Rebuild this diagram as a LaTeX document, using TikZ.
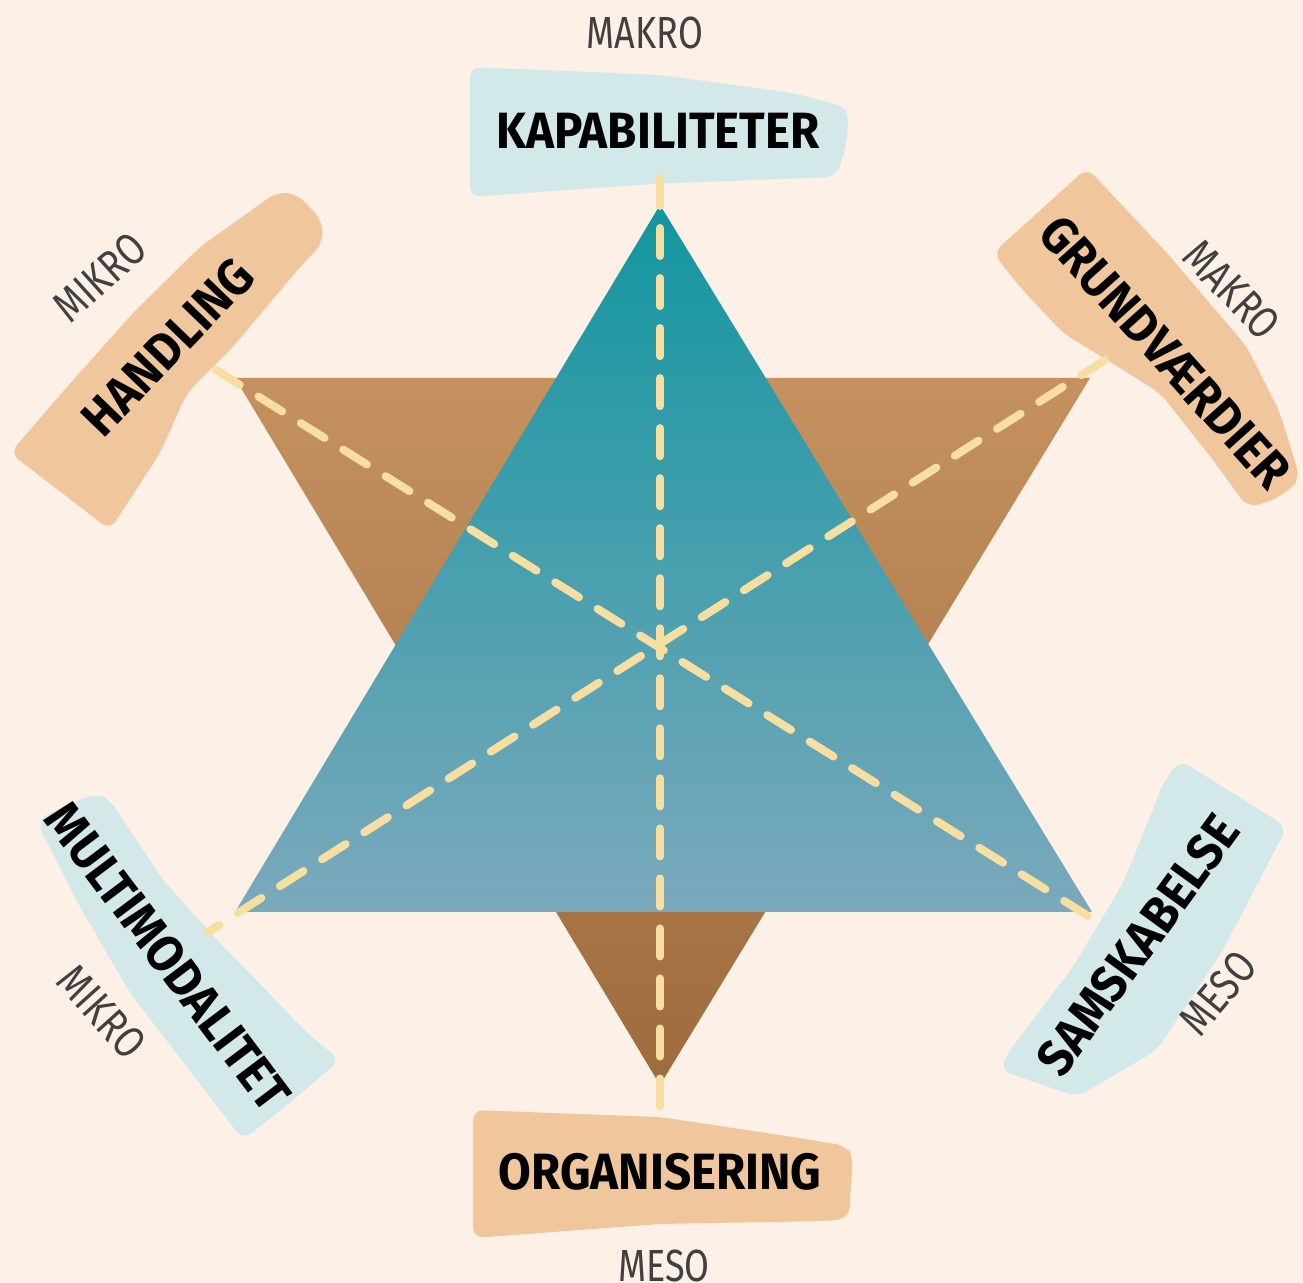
\documentclass[tikz,border=0pt]{standalone}
\usepackage{fontspec}
\setmainfont{Fira Sans}
\usetikzlibrary{positioning}

\definecolor{bg}{HTML}{FDF1E7}
\definecolor{peach}{HTML}{F0C69D}
\definecolor{paleblue}{HTML}{D3E8E8}
\definecolor{browntop}{HTML}{C4915F}
\definecolor{brownbot}{HTML}{9E6B3F}
\definecolor{tealtop}{HTML}{12969F}
\definecolor{tealbot}{HTML}{7BA9BC}
\definecolor{dashcol}{HTML}{F8DFA1}

\begin{document}
\begin{tikzpicture}[
  x=0.01cm, y=-0.01cm,
  lbl/.style={font=\bfseries\fontsize{14.5}{14.5}\selectfont, text=black, inner sep=0pt, xscale=0.93},
  lvl/.style={font=\fontsize{12.8}{12.8}\selectfont, text=black!75, inner sep=0pt, xscale=0.8},
  axis/.style={draw=dashcol, line width=0.08cm, line cap=round, dash pattern=on 0.28cm off 0.22cm},
  paper/.style={rounded corners=3pt}
]
\useasboundingbox (0,0) rectangle (1303,1283);
\fill[bg] (0,0) rectangle (1303,1283);

% triangles
\shade[top color=browntop, bottom color=brownbot] (235,378) -- (1090,378) -- (660,1085) -- cycle;
\shade[top color=tealtop, bottom color=tealbot] (660,205) -- (1092,912) -- (235,912) -- cycle;

% paper strips
\fill[paleblue, paper] (470,67) -- (660,75) -- (793,93) -- (843,106) -- (849,115) -- (846,147) -- (836,177) -- (653,184) -- (470,197) -- cycle;
\fill[peach, paper] (473,1110) -- (660,1117) -- (793,1137) -- (847,1146) -- (853,1157) -- (849,1218) -- (827,1221) -- (660,1224) -- (473,1238) -- cycle;
\fill[peach, paper] (10,453) -- (110,530) -- (160,453) -- (187,393) -- (233,347) -- (300,267) -- (323,243) -- (322,220) -- (297,194) -- (277,192) -- (200,247) -- (133,313) -- (67,387) -- cycle;
\fill[peach, paper] (993,253) -- (1087,168) -- (1167,253) -- (1247,347) -- (1280,413) -- (1300,478) -- (1290,490) -- (1267,503) -- (1247,507) -- (1213,460) -- (1160,393) -- (1107,360) -- (1063,333) -- (1020,287) -- cycle;
\fill[paleblue, paper] (37,823) -- (50,812) -- (97,793) -- (110,800) -- (163,880) -- (217,940) -- (263,987) -- (307,1033) -- (340,1060) -- (297,1097) -- (243,1140) -- (197,1080) -- (130,993) -- (80,907) -- cycle;
\fill[paleblue, paper] (1180,760) -- (1287,827) -- (1223,950) -- (1157,1050) -- (1077,1097) -- (1000,1070) -- (1010,1050) -- (1073,967) -- (1123,883) -- (1150,817) -- (1163,783) -- cycle;

% labels
\node[lbl] (kap) at (658,131) {KAPABILITETER};
\node[lbl] (org) at (660,1172) {ORGANISERING};
\node[rotate=46, lbl] (hand) at (168,347) {HANDLING};
\node[rotate=-48, lbl] (grund) at (1165,352) {GRUNDVÆRDIER};
\node[rotate=-53, lbl] (multi) at (168,957) {MULTIMODALITET};
\node[rotate=54, lbl] (samsk) at (1138,945) {SAMSKABELSE};

\node[lvl] (makroT) at (645,33) {MAKRO};
\node[lvl] (mesoB) at (664,1266) {MESO};
\node[rotate=42, lvl] (mikroT) at (100,277) {MIKRO};
\node[rotate=-46, lvl] (makroR) at (1232,290) {MAKRO};
\node[rotate=-48, lvl] (mikroB) at (102,1012) {MIKRO};
\node[rotate=50, lvl] (mesoR) at (1218,993) {MESO};

% axis ends
\coordinate (kapEnd) at (660,178);
\coordinate (orgEnd) at (660,1117);
\coordinate (handEnd) at (216,370);
\coordinate (samskEnd) at (1093,919);
\coordinate (grundEnd) at (1105,360);
\coordinate (multiEnd) at (208,932);

\path
(kapEnd) edge[axis] (orgEnd)
(handEnd) edge[axis] (samskEnd)
(grundEnd) edge[axis] (multiEnd)
;

\end{tikzpicture}
\end{document}
